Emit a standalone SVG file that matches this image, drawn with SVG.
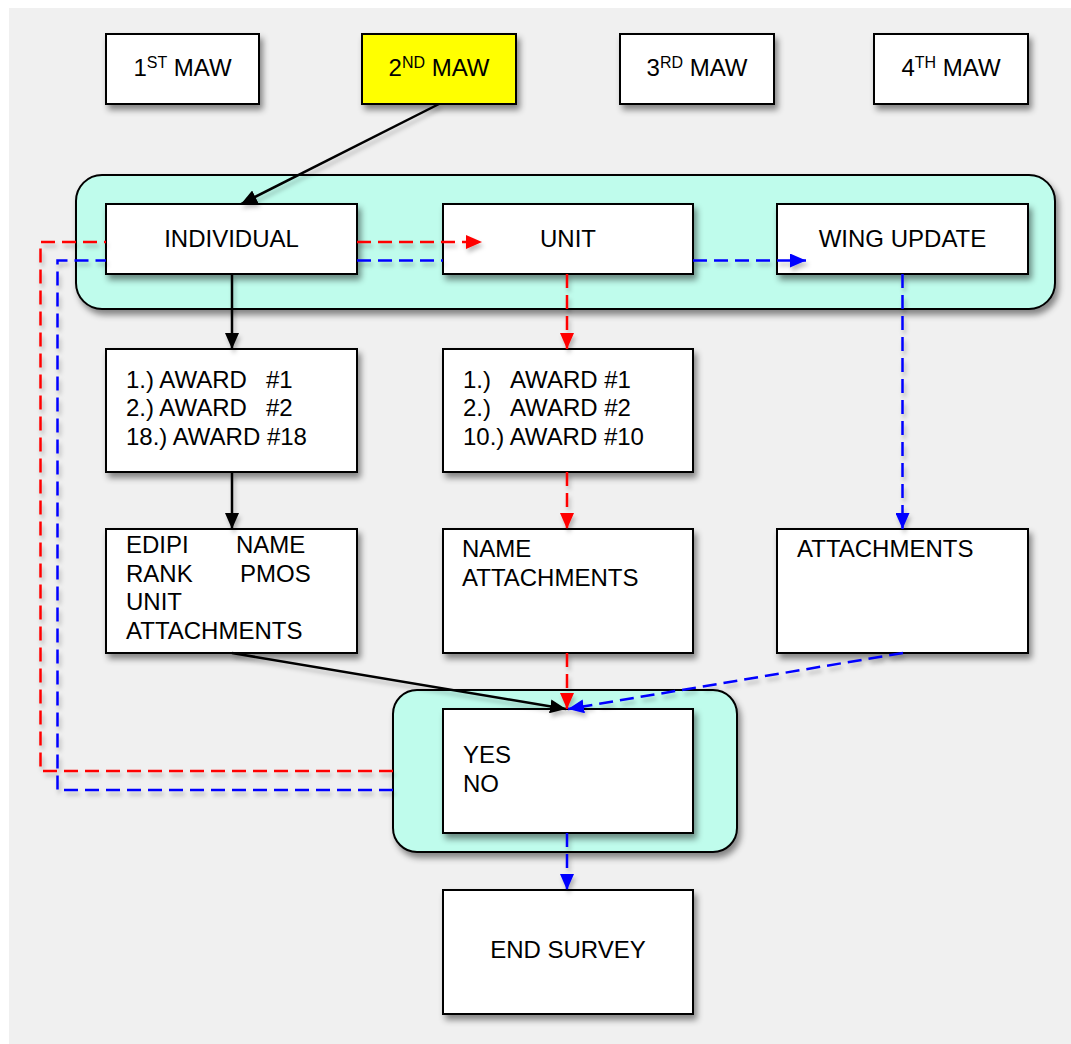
<svg xmlns="http://www.w3.org/2000/svg" width="1071" height="1044" viewBox="0 0 1071 1044">
<defs>
<filter id="sh" x="-20%" y="-20%" width="150%" height="160%">
<feDropShadow dx="3" dy="5" stdDeviation="3" flood-color="#000" flood-opacity="0.45"/>
</filter>
<filter id="lsh" x="-20%" y="-20%" width="150%" height="150%">
<feDropShadow dx="2" dy="4" stdDeviation="2" flood-color="#000" flood-opacity="0.25"/>
</filter>
<marker id="ak" markerUnits="userSpaceOnUse" markerWidth="16" markerHeight="14" refX="16" refY="7" orient="auto"><path d="M0,0 L16,7 L0,14 z" fill="#000"/></marker>
<marker id="ar" markerUnits="userSpaceOnUse" markerWidth="16" markerHeight="14" refX="16" refY="7" orient="auto"><path d="M0,0 L16,7 L0,14 z" fill="#ff0000"/></marker>
<marker id="ab" markerUnits="userSpaceOnUse" markerWidth="16" markerHeight="14" refX="16" refY="7" orient="auto"><path d="M0,0 L16,7 L0,14 z" fill="#0000ff"/></marker>
</defs>
<style>
text{font-family:"Liberation Sans",Arial,sans-serif;font-size:24px;fill:#000}
.box{fill:#fff;stroke:#000;stroke-width:2;filter:url(#sh)}
.cont{fill:#bffcec;stroke:#000;stroke-width:2;filter:url(#sh)}
.k{fill:none;stroke:#000;stroke-width:2.5}
.r{fill:none;stroke:#ff0000;stroke-width:2.5;stroke-dasharray:14 7}
.b{fill:none;stroke:#0000ff;stroke-width:2.5;stroke-dasharray:14 7}
.sup{font-size:16px}
.c{text-anchor:middle}
</style>
<rect x="0" y="0" width="1071" height="1044" fill="#fff"/>
<rect x="9" y="8" width="1062" height="1036" fill="#f0f0f0"/>

<g id="container-top"><rect class="cont" x="76" y="175" width="979" height="134" rx="26"/></g>
<g id="container-bottom"><rect class="cont" x="393" y="690" width="344" height="162" rx="24"/></g>

<g id="maw1"><rect class="box" x="106" y="34" width="153" height="70"/><text class="c" x="182.5" y="76">1<tspan class="sup" dy="-8">ST</tspan><tspan dy="8"> MAW</tspan></text></g>
<g id="maw2"><rect class="box" x="362" y="34" width="154" height="70" style="fill:#ffff00"/><text class="c" x="439" y="76">2<tspan class="sup" dy="-8">ND</tspan><tspan dy="8"> MAW</tspan></text></g>
<g id="maw3"><rect class="box" x="620" y="34" width="154" height="70"/><text class="c" x="697" y="76">3<tspan class="sup" dy="-8">RD</tspan><tspan dy="8"> MAW</tspan></text></g>
<g id="maw4"><rect class="box" x="874" y="34" width="154" height="70"/><text class="c" x="951" y="76">4<tspan class="sup" dy="-8">TH</tspan><tspan dy="8"> MAW</tspan></text></g>

<g id="individual"><rect class="box" x="106" y="204" width="251" height="70"/><text class="c" x="231.5" y="247">INDIVIDUAL</text></g>
<g id="unit"><rect class="box" x="443" y="204" width="250" height="70"/><text class="c" x="568" y="247">UNIT</text></g>
<g id="wing-update"><rect class="box" x="777" y="204" width="251" height="70"/><text class="c" x="902.5" y="247">WING UPDATE</text></g>

<g id="ind-awards"><rect class="box" x="106" y="349" width="251" height="123"/>
<text x="126" y="388">1.) AWARD</text><text x="266" y="388">#1</text>
<text x="126" y="416">2.) AWARD</text><text x="266" y="416">#2</text>
<text x="126" y="445">18.) AWARD #18</text></g>
<g id="unit-awards"><rect class="box" x="443" y="349" width="250" height="123"/>
<text x="463" y="388">1.)</text><text x="510" y="388">AWARD #1</text>
<text x="463" y="416">2.)</text><text x="510" y="416">AWARD #2</text>
<text x="463" y="445">10.) AWARD #10</text></g>

<g id="ind-details"><rect class="box" x="106" y="529" width="251" height="124"/>
<text x="126" y="553">EDIPI</text><text x="236" y="553">NAME</text>
<text x="126" y="582">RANK</text><text x="240" y="582">PMOS</text>
<text x="126" y="610">UNIT</text>
<text x="126" y="639">ATTACHMENTS</text></g>
<g id="unit-details"><rect class="box" x="443" y="529" width="250" height="124"/>
<text x="462" y="557">NAME</text>
<text x="462" y="586">ATTACHMENTS</text></g>
<g id="wing-details"><rect class="box" x="777" y="529" width="251" height="124"/>
<text x="797" y="557">ATTACHMENTS</text></g>

<g id="yes-no"><rect class="box" x="443" y="709" width="250" height="124"/>
<text x="463" y="763">YES</text>
<text x="463" y="792">NO</text></g>
<g id="end-survey"><rect class="box" x="443" y="890" width="250" height="124"/>
<text class="c" x="568" y="958">END SURVEY</text></g>

<g id="connectors" filter="url(#lsh)">
<path class="k" d="M439,104 L241,204" marker-end="url(#ak)"/>
<path class="k" d="M232,274 L232,349" marker-end="url(#ak)"/>
<path class="k" d="M232,472 L232,529" marker-end="url(#ak)"/>
<path class="k" d="M232,653 L566,709" marker-end="url(#ak)"/>
<path class="r" d="M393,771 L40.5,771 L40.5,242 L106,242"/>
<path class="r" d="M357,242 L482,242" marker-end="url(#ar)"/>
<path class="b" d="M393,790 L57.5,790 L57.5,260.5 L106,260.5"/>
<path class="b" d="M357,260.5 L443,260.5"/>
<path class="b" d="M693,260.5 L806,260.5" marker-end="url(#ab)"/>
<path class="r" d="M567,274 L567,349" marker-end="url(#ar)"/>
<path class="r" d="M567,472 L567,529" marker-end="url(#ar)"/>
<path class="r" d="M567,653 L567,709" marker-end="url(#ar)"/>
<path class="b" d="M902.5,274 L902.5,529" marker-end="url(#ab)"/>
<path class="b" d="M903,653 L568,709" marker-end="url(#ab)"/>
<path class="b" d="M567,833 L567,890" marker-end="url(#ab)"/>
</g>
</svg>
